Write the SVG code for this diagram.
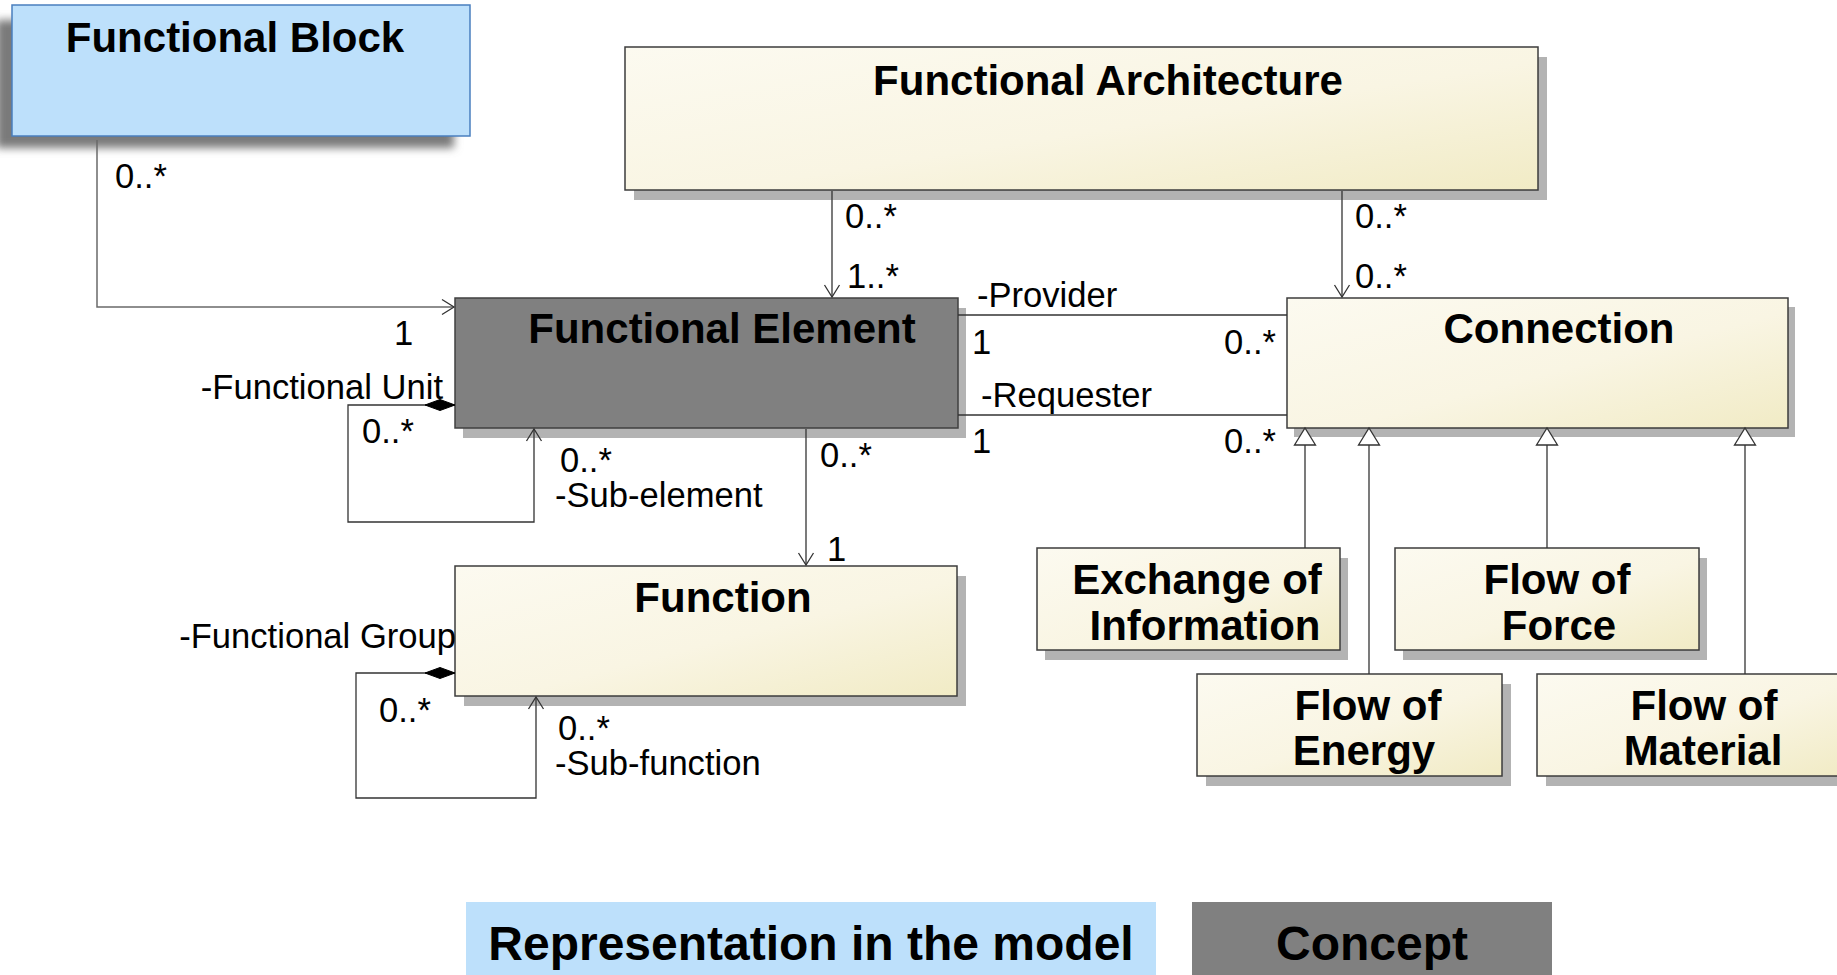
<svg xmlns="http://www.w3.org/2000/svg" width="1837" height="975" viewBox="0 0 1837 975">
<style>
.title{font-family:"Liberation Sans",Arial,sans-serif;font-weight:bold;font-size:42px;fill:#000;text-anchor:middle}
.legend{font-family:"Liberation Sans",Arial,sans-serif;font-weight:bold;font-size:48px;fill:#000;text-anchor:middle}
.lbl{font-family:"Liberation Sans",Arial,sans-serif;font-size:34.6px;fill:#000}
.cream{fill:url(#creamGrad);stroke:#3c3c3c;stroke-width:1.5}
.shadow{fill:#b3b3b3}
.conn{fill:none;stroke:#333;stroke-width:1.3}
</style>
<defs>
<linearGradient id="creamGrad" x1="0" y1="0" x2="1" y2="1">
<stop offset="0" stop-color="#fcfaf0"/>
<stop offset="0.55" stop-color="#f9f5e3"/>
<stop offset="1" stop-color="#f1ebc5"/>
</linearGradient>
<filter id="blur" x="-10%" y="-20%" width="120%" height="140%">
<feGaussianBlur stdDeviation="4"/>
</filter>
<marker id="open" viewBox="-14 -10 16 20" refX="0" refY="0" markerWidth="16" markerHeight="20" markerUnits="userSpaceOnUse" orient="auto">
<path d="M-12,-7.5 L0,0 L-12,7.5" fill="none" stroke="#333" stroke-width="1.3"/>
</marker>
<marker id="tri" viewBox="-1 -12 20 24" refX="0" refY="0" markerWidth="20" markerHeight="24" markerUnits="userSpaceOnUse" orient="auto">
<polygon points="0,-10.5 17,0 0,10.5" fill="#fff" stroke="#333" stroke-width="1.3"/>
</marker>
<marker id="diamond" viewBox="-1 -7 33 14" refX="0" refY="0" markerWidth="33" markerHeight="14" markerUnits="userSpaceOnUse" orient="auto">
<polygon points="0,0 15,-5.5 30,0 15,5.5" fill="#000" stroke="#000" stroke-width="1"/>
</marker>
</defs>
<rect width="1837" height="975" fill="#fff"/>

<g id="functional-block">
<rect x="-4" y="20" width="458" height="128" fill="#7a7a7a" filter="url(#blur)"/>
<rect x="12" y="5" width="458" height="131" fill="#bde0fb" stroke="#4a7fbf" stroke-width="1.5"/>
<text class="title" x="235" y="52">Functional Block</text>
</g>

<g id="functional-architecture">
<rect class="shadow" x="634" y="57" width="913" height="143"/>
<rect class="cream" x="625" y="47" width="913" height="143"/>
<text class="title" x="1108" y="95">Functional Architecture</text>
</g>

<g id="functional-element">
<rect class="shadow" x="463" y="308" width="503" height="130"/>
<rect x="455" y="298" width="503" height="130" fill="#808080" stroke="#404040" stroke-width="1.5"/>
<text class="title" x="722" y="343">Functional Element</text>
</g>

<g id="connection">
<rect class="shadow" x="1294" y="307" width="501" height="130"/>
<rect class="cream" x="1287" y="298" width="501" height="130"/>
<text class="title" x="1559" y="343">Connection</text>
</g>

<g id="function">
<rect class="shadow" x="464" y="576" width="502" height="130"/>
<rect class="cream" x="455" y="566" width="502" height="130"/>
<text class="title" x="723" y="612">Function</text>
</g>

<g id="exchange-of-information">
<rect class="shadow" x="1045" y="558" width="303" height="102"/>
<rect class="cream" x="1037" y="548" width="303" height="102"/>
<text class="title" x="1197" y="594">Exchange of</text>
<text class="title" x="1205" y="640">Information</text>
</g>

<g id="flow-of-force">
<rect class="shadow" x="1403" y="558" width="304" height="102"/>
<rect class="cream" x="1395" y="548" width="304" height="102"/>
<text class="title" x="1557" y="594">Flow of</text>
<text class="title" x="1559" y="640">Force</text>
</g>

<g id="flow-of-energy">
<rect class="shadow" x="1206" y="684" width="305" height="102"/>
<rect class="cream" x="1197" y="674" width="305" height="102"/>
<text class="title" x="1368" y="720">Flow of</text>
<text class="title" x="1364" y="765">Energy</text>
</g>

<g id="flow-of-material">
<rect class="shadow" x="1546" y="684" width="305" height="102"/>
<rect class="cream" x="1537" y="674" width="305" height="102"/>
<text class="title" x="1704" y="720">Flow of</text>
<text class="title" x="1703" y="765">Material</text>
</g>

<g id="connectors">
<path d="M97,140 V307 H454" fill="none" stroke="#6a6a6a" stroke-width="1.5" marker-end="url(#open)"/>
<path class="conn" d="M832,191 V297" marker-end="url(#open)"/>
<path class="conn" d="M1342,191 V297" marker-end="url(#open)"/>
<path class="conn" d="M958,315 H1287"/>
<path class="conn" d="M958,415 H1287"/>
<path class="conn" d="M806,429 V565" marker-end="url(#open)"/>
<path class="conn" d="M455,405 H348 V522 H534 V429" marker-start="url(#diamond)" marker-end="url(#open)"/>
<path class="conn" d="M455,673 H356 V798 H536 V697" marker-start="url(#diamond)" marker-end="url(#open)"/>
<path class="conn" d="M1305,548 V445" marker-end="url(#tri)"/>
<path class="conn" d="M1369,674 V445" marker-end="url(#tri)"/>
<path class="conn" d="M1547,548 V445" marker-end="url(#tri)"/>
<path class="conn" d="M1745,674 V445" marker-end="url(#tri)"/>
</g>

<g id="labels">
<text class="lbl" x="115" y="188">0..*</text>
<text class="lbl" x="394" y="345">1</text>
<text class="lbl" x="845" y="228">0..*</text>
<text class="lbl" x="847" y="288">1..*</text>
<text class="lbl" x="1355" y="228">0..*</text>
<text class="lbl" x="1355" y="288">0..*</text>
<text class="lbl" x="977" y="307">-Provider</text>
<text class="lbl" x="981" y="407">-Requester</text>
<text class="lbl" x="972" y="354">1</text>
<text class="lbl" x="972" y="453">1</text>
<text class="lbl" x="1276" y="354" text-anchor="end">0..*</text>
<text class="lbl" x="1276" y="453" text-anchor="end">0..*</text>
<text class="lbl" x="443" y="399" text-anchor="end">-Functional Unit</text>
<text class="lbl" x="362" y="443">0..*</text>
<text class="lbl" x="560" y="472">0..*</text>
<text class="lbl" x="555" y="507">-Sub-element</text>
<text class="lbl" x="820" y="467">0..*</text>
<text class="lbl" x="827" y="561">1</text>
<text class="lbl" x="456" y="648" text-anchor="end">-Functional Group</text>
<text class="lbl" x="379" y="722">0..*</text>
<text class="lbl" x="558" y="740">0..*</text>
<text class="lbl" x="555" y="775">-Sub-function</text>
</g>

<g id="legend-representation">
<rect x="466" y="902" width="690" height="73" fill="#bde0fb"/>
<text class="legend" x="811" y="960">Representation in the model</text>
</g>
<g id="legend-concept">
<rect x="1192" y="902" width="360" height="73" fill="#808080"/>
<text class="legend" x="1372" y="960">Concept</text>
</g>
</svg>
